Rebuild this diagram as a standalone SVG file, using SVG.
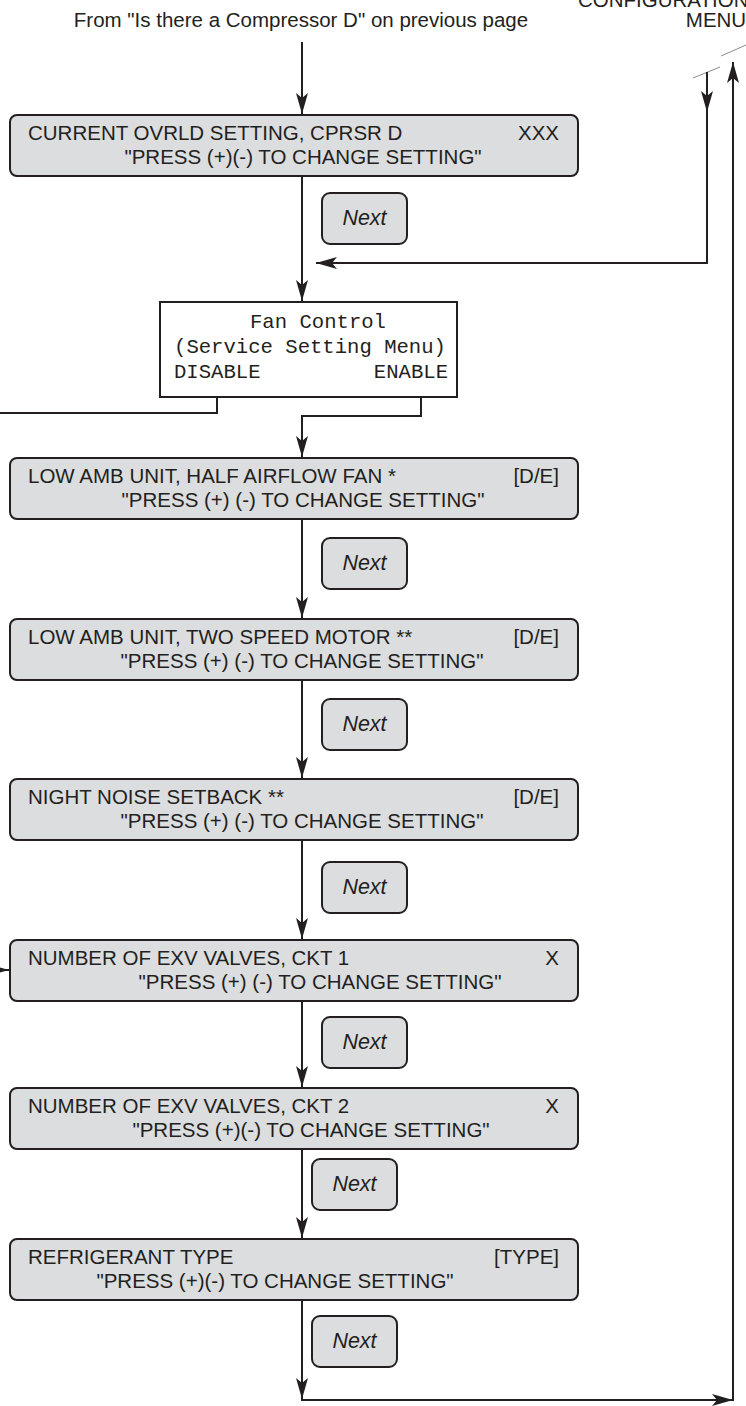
<svg xmlns="http://www.w3.org/2000/svg" width="746" height="1406" viewBox="0 0 746 1406">
<defs>
<style>
.box{fill:#dcdddf;stroke:#231f20;stroke-width:2}
.fan{fill:#ffffff;stroke:#231f20;stroke-width:2}
.t{font-family:"Liberation Sans",Arial,sans-serif;font-size:20.5px;fill:#231f20}
.n{font-family:"Liberation Sans",Arial,sans-serif;font-size:21.5px;font-style:italic;fill:#231f20}
.m{font-family:"Liberation Mono","Courier New",monospace;font-size:20.6px;fill:#231f20}
.c{fill:none;stroke:#231f20;stroke-width:2}
.brk{fill:none;stroke:#8a8a8a;stroke-width:1}
</style>
<marker id="ah" markerUnits="userSpaceOnUse" markerWidth="24" markerHeight="14" viewBox="-22 -7 24 14" refX="0" refY="0" orient="auto">
<path d="M0,0 L-21,-6 L-16,0 L-21,6 Z" fill="#231f20"/>
</marker>
</defs>

<g id="header">
<text class="t" x="301" y="27" text-anchor="middle">From "Is there a Compressor D" on previous page</text>
<text class="t" x="578" y="7">CONFIGURATION</text>
<text class="t" x="716" y="27" text-anchor="middle">MENU</text>
</g>

<g id="connectors">
<line class="c" x1="302" y1="42" x2="302" y2="114" marker-end="url(#ah)"/>
<line class="c" x1="302" y1="176" x2="302" y2="301" marker-end="url(#ah)"/>
<line class="brk" x1="693" y1="78" x2="720" y2="67"/>
<line class="brk" x1="721" y1="56" x2="746" y2="45"/>
<line class="c" x1="707" y1="72" x2="707" y2="112" marker-end="url(#ah)"/>
<polyline class="c" points="707,110 707,263 316,263" marker-end="url(#ah)"/>
<polyline class="c" points="217,397 217,413 0,413"/>
<polyline class="c" points="421,397 421,416 302,416 302,457" marker-end="url(#ah)"/>
<line class="c" x1="302" y1="519" x2="302" y2="618" marker-end="url(#ah)"/>
<line class="c" x1="302" y1="680" x2="302" y2="778" marker-end="url(#ah)"/>
<line class="c" x1="302" y1="840" x2="302" y2="939" marker-end="url(#ah)"/>
<line class="c" x1="0" y1="970" x2="9" y2="970" marker-end="url(#ah)"/>
<line class="c" x1="302" y1="1001" x2="302" y2="1087" marker-end="url(#ah)"/>
<line class="c" x1="302" y1="1149" x2="302" y2="1238" marker-end="url(#ah)"/>
<line class="c" x1="302" y1="1300" x2="302" y2="1399" marker-end="url(#ah)"/>
<line class="c" x1="301" y1="1400" x2="733" y2="1400" marker-end="url(#ah)"/>
<line class="c" x1="733" y1="1401" x2="733" y2="62" marker-end="url(#ah)"/>
</g>

<g id="box1">
<rect class="box" x="10" y="115" width="568" height="61" rx="7"/>
<text class="t" x="28" y="140">CURRENT OVRLD SETTING, CPRSR D</text>
<text class="t" x="559" y="140" text-anchor="end">XXX</text>
<text class="t" x="303" y="164" text-anchor="middle">"PRESS (+)(-) TO CHANGE SETTING"</text>
</g>
<g id="next1">
<rect class="box" x="322" y="193" width="85" height="51" rx="8"/>
<text class="n" x="364.5" y="225" text-anchor="middle">Next</text>
</g>

<g id="fancontrol">
<rect class="fan" x="160" y="302" width="297" height="95"/>
<text class="m" x="318" y="328" text-anchor="middle">Fan Control</text>
<text class="m" x="310" y="353" text-anchor="middle">(Service Setting Menu)</text>
<text class="m" x="174" y="378">DISABLE</text>
<text class="m" x="448" y="378" text-anchor="end">ENABLE</text>
</g>

<g id="box2">
<rect class="box" x="10" y="458" width="568" height="61" rx="7"/>
<text class="t" x="28" y="483">LOW AMB UNIT, HALF AIRFLOW FAN *</text>
<text class="t" x="559" y="483" text-anchor="end">[D/E]</text>
<text class="t" x="303" y="507" text-anchor="middle">"PRESS (+) (-) TO CHANGE SETTING"</text>
</g>
<g id="next2">
<rect class="box" x="322" y="538" width="85" height="51" rx="8"/>
<text class="n" x="364.5" y="570" text-anchor="middle">Next</text>
</g>

<g id="box3">
<rect class="box" x="10" y="619" width="568" height="61" rx="7"/>
<text class="t" x="28" y="644">LOW AMB UNIT, TWO SPEED MOTOR **</text>
<text class="t" x="559" y="644" text-anchor="end">[D/E]</text>
<text class="t" x="302" y="668" text-anchor="middle">"PRESS (+) (-) TO CHANGE SETTING"</text>
</g>
<g id="next3">
<rect class="box" x="322" y="699" width="85" height="51" rx="8"/>
<text class="n" x="364.5" y="731" text-anchor="middle">Next</text>
</g>

<g id="box4">
<rect class="box" x="10" y="779" width="568" height="61" rx="7"/>
<text class="t" x="28" y="804">NIGHT NOISE SETBACK **</text>
<text class="t" x="559" y="804" text-anchor="end">[D/E]</text>
<text class="t" x="302" y="828" text-anchor="middle">"PRESS (+) (-) TO CHANGE SETTING"</text>
</g>
<g id="next4">
<rect class="box" x="322" y="862" width="85" height="51" rx="8"/>
<text class="n" x="364.5" y="894" text-anchor="middle">Next</text>
</g>

<g id="box5">
<rect class="box" x="10" y="940" width="568" height="61" rx="7"/>
<text class="t" x="28" y="965">NUMBER OF EXV VALVES, CKT 1</text>
<text class="t" x="559" y="965" text-anchor="end">X</text>
<text class="t" x="320" y="989" text-anchor="middle">"PRESS (+) (-) TO CHANGE SETTING"</text>
</g>
<g id="next5">
<rect class="box" x="322" y="1017" width="85" height="51" rx="8"/>
<text class="n" x="364.5" y="1049" text-anchor="middle">Next</text>
</g>

<g id="box6">
<rect class="box" x="10" y="1088" width="568" height="61" rx="7"/>
<text class="t" x="28" y="1113">NUMBER OF EXV VALVES, CKT 2</text>
<text class="t" x="559" y="1113" text-anchor="end">X</text>
<text class="t" x="311" y="1137" text-anchor="middle">"PRESS (+)(-) TO CHANGE SETTING"</text>
</g>
<g id="next6">
<rect class="box" x="312" y="1159" width="85" height="51" rx="8"/>
<text class="n" x="354.5" y="1191" text-anchor="middle">Next</text>
</g>

<g id="box7">
<rect class="box" x="10" y="1239" width="568" height="61" rx="7"/>
<text class="t" x="28" y="1264">REFRIGERANT TYPE</text>
<text class="t" x="559" y="1264" text-anchor="end">[TYPE]</text>
<text class="t" x="275" y="1288" text-anchor="middle">"PRESS (+)(-) TO CHANGE SETTING"</text>
</g>
<g id="next7">
<rect class="box" x="312" y="1316" width="85" height="51" rx="8"/>
<text class="n" x="354.5" y="1348" text-anchor="middle">Next</text>
</g>
</svg>
